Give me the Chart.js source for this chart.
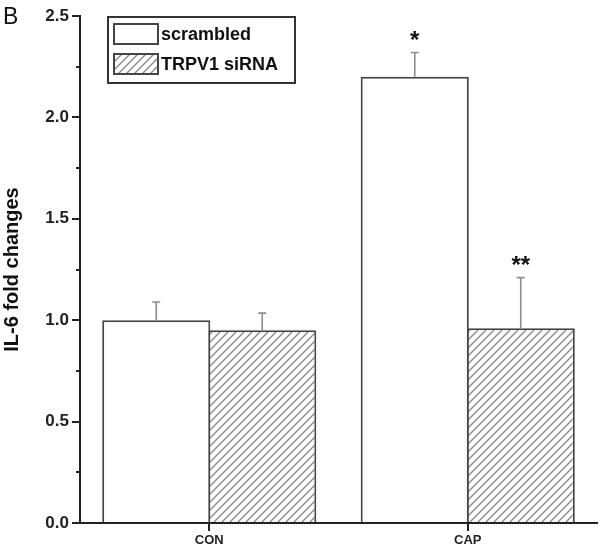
<!DOCTYPE html>
<html>
<head>
<meta charset="UTF-8">
<title>IL-6 fold changes</title>
<script src="https://cdn.jsdelivr.net/npm/chart.js@4.4.0/dist/chart.umd.min.js"></script>
<style>
  html, body { margin: 0; padding: 0; background: #fff; }
  canvas { display: block; }
</style>
</head>
<body>
<canvas id="chart" width="601" height="554"></canvas>
<script>
  // data
  var categories = ['CON', 'CAP'];
  var seriesNames = ['scrambled', 'TRPV1 siRNA'];
  var scrambledMeans = [1.0, 2.2];
  var scrambledErrors = [0.09, 0.12];
  var sirnaMeans = [0.95, 0.96];
  var sirnaErrors = [0.085, 0.25];
  var scrambledMarks = ['', '*'];
  var sirnaMarks = ['', '**'];
  var yTicks = [0, 0.5, 1.0, 1.5, 2.0, 2.5];

  var FONT = '"Liberation Sans", Arial, Helvetica, sans-serif';
  var INK = '#222';

  // hatch fill "/"
  function makeHatch() {
    var c = document.createElement('canvas');
    c.width = 8; c.height = 8;
    var g = c.getContext('2d');
    g.fillStyle = '#fff';
    g.fillRect(0, 0, 8, 8);
    g.strokeStyle = '#8a8a8a';
    g.lineWidth = 1.4;
    g.beginPath();
    g.moveTo(0, 8); g.lineTo(8, 0);
    g.moveTo(-2, 2); g.lineTo(2, -2);
    g.moveTo(6, 10); g.lineTo(10, 6);
    g.stroke();
    return document.getElementById('chart').getContext('2d').createPattern(c, 'repeat');
  }
  var hatch = makeHatch();

  var errors = [scrambledErrors, sirnaErrors];
  var marks = [scrambledMarks, sirnaMarks];

  var extras = {
    id: 'extras',
    afterDatasetsDraw: function (chart) {
      var ctx = chart.ctx;
      var y = chart.scales.y;
      ctx.save();
      chart.data.datasets.forEach(function (ds, i) {
        var meta = chart.getDatasetMeta(i);
        meta.data.forEach(function (bar, j) {
          var top = y.getPixelForValue(ds.data[j]);
          var errTop = y.getPixelForValue(ds.data[j] + errors[i][j]);
          ctx.strokeStyle = '#8c8c8c';
          ctx.lineWidth = 1.6;
          ctx.beginPath();
          ctx.moveTo(bar.x, top);
          ctx.lineTo(bar.x, errTop);
          ctx.moveTo(bar.x - 4, errTop);
          ctx.lineTo(bar.x + 4, errTop);
          ctx.stroke();
          if (marks[i][j]) {
            ctx.fillStyle = '#111';
            ctx.font = 'bold 24px ' + FONT;
            ctx.textAlign = 'center';
            ctx.textBaseline = 'middle';
            ctx.fillText(marks[i][j], bar.x, errTop - 11);
          }
        });
      });
      ctx.restore();
    },
    afterDraw: function (chart) {
      var ctx = chart.ctx;
      var y = chart.scales.y;
      ctx.save();
      // minor ticks
      ctx.strokeStyle = INK;
      ctx.lineWidth = 2;
      for (var k = 0; k < yTicks.length - 1; k++) {
        var py = Math.round(y.getPixelForValue((yTicks[k] + yTicks[k + 1]) / 2));
        ctx.beginPath();
        ctx.moveTo(y.right - 4, py);
        ctx.lineTo(y.right, py);
        ctx.stroke();
      }
      // panel letter
      ctx.fillStyle = '#111';
      ctx.font = '23px ' + FONT;
      ctx.textAlign = 'left';
      ctx.textBaseline = 'alphabetic';
      ctx.fillText('B', 3, 24);
      // legend
      ctx.strokeStyle = '#333';
      ctx.lineWidth = 2;
      ctx.fillStyle = '#fff';
      ctx.fillRect(108, 17, 187, 66);
      ctx.strokeRect(108, 17, 187, 66);
      var rows = [24, 54];
      chart.data.datasets.forEach(function (ds, i) {
        ctx.fillStyle = ds.backgroundColor;
        ctx.fillRect(114, rows[i], 44, 20);
        ctx.strokeStyle = '#444';
        ctx.strokeRect(114, rows[i], 44, 20);
        ctx.fillStyle = '#111';
        ctx.font = 'bold 18px ' + FONT;
        ctx.textBaseline = 'middle';
        ctx.fillText(ds.label, 161, rows[i] + 11);
      });
      ctx.restore();
    }
  };

  new Chart(document.getElementById('chart'), {
    type: 'bar',
    data: {
      labels: categories,
      datasets: [
        { label: seriesNames[0], data: scrambledMeans, backgroundColor: '#fff',
          borderColor: '#444', borderWidth: 2 },
        { label: seriesNames[1], data: sirnaMeans, backgroundColor: hatch,
          borderColor: '#444', borderWidth: 2 }
      ]
    },
    options: {
      responsive: false,
      animation: false,
      categoryPercentage: 0.82,
      barPercentage: 1.02,
      layout: { padding: { top: 16, right: 4, left: 0, bottom: 0 } },
      plugins: { legend: { display: false }, tooltip: { enabled: false } },
      scales: {
        x: {
          afterFit: function (s) { s.height = 31; },
          grid: { display: true, drawOnChartArea: false, offset: false,
                  tickLength: 8, color: INK, lineWidth: 2 },
          border: { display: true, color: INK, width: 2 },
          ticks: { color: INK, padding: 2, font: { family: FONT, size: 13, weight: 'bold' } }
        },
        y: {
          min: 0,
          max: 2.5,
          afterFit: function (s) { s.width = 80; },
          afterBuildTicks: function (s) {
            s.ticks = yTicks.map(function (v) { return { value: v }; });
          },
          grid: { display: true, drawOnChartArea: false, tickLength: 8,
                  color: INK, lineWidth: 2 },
          border: { display: true, color: INK, width: 2 },
          title: { display: true, text: 'IL-6 fold changes', color: '#111',
                   padding: { top: 0, bottom: 0 },
                   font: { family: FONT, size: 20, weight: 'bold' } },
          ticks: { color: INK, padding: 3,
                   font: { family: FONT, size: 17, weight: 'bold' },
                   callback: function (v) { return Number(v).toFixed(1); } }
        }
      }
    },
    plugins: [extras]
  });
</script>
</body>
</html>
